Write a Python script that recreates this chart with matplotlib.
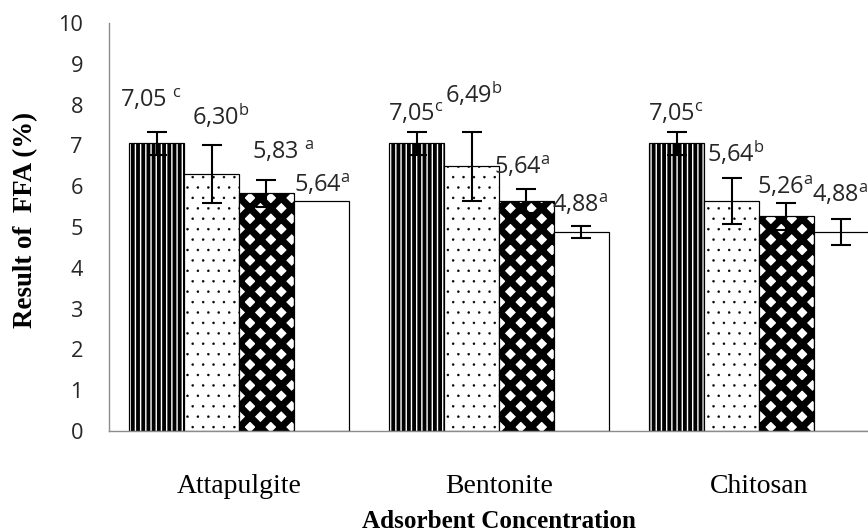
import matplotlib
matplotlib.use("Agg")
import matplotlib.pyplot as plt
import numpy as np

categories = ["Attapulgite", "Bentonite", "Chitosan"]

# FFA (%) per adsorbent, one list per concentration level
conc_1 = [7.05, 7.05, 7.05]
conc_2 = [6.30, 6.49, 5.64]
conc_3 = [5.83, 5.64, 5.26]
conc_4 = [5.64, 4.88, 4.88]

err_1 = [0.28, 0.29, 0.28]
err_2 = [0.71, 0.85, 0.57]
err_3 = [0.33, 0.30, 0.34]
err_4 = [0.00, 0.15, 0.31]

letters_1 = ["c", "c", "c"]
letters_2 = ["b", "b", "b"]
letters_3 = ["a", "a", "a"]
letters_4 = ["a", "a", "a"]

values = [conc_1, conc_2, conc_3, conc_4]
errors = [err_1, err_2, err_3, err_4]
letters = [letters_1, letters_2, letters_3, letters_4]

# label placement (layout only): rows = series, cols = category
lab_y = [[8.11, 7.75, 7.75],
         [7.70, 8.24, 6.81],
         [6.84, 6.45, 5.96],
         [6.03, 5.54, 5.78]]
lab_dx = [[-0.024, -0.005, -0.005],
          [0.035, 0.007, 0.018],
          [0.065, -0.015, -0.003],
          [0.005, -0.003, -0.003]]
lab_gap = [[" ", "", ""],
           ["", "", ""],
           [" ", "", ""],
           ["", "", ""]]

# style per series: hatch, hatch linewidth
styles = [("||||", 2.2),
          ("..", 0.2),
          ("xx", 4.0),
          ("", 0.8)]

DPI = 125
fig = plt.figure(figsize=(868 / DPI, 532 / DPI), dpi=DPI)
ax = fig.add_axes([109 / 868, 101 / 532, 780 / 868, 408 / 532])

x = np.arange(len(categories))
w = 0.2106

for i in range(4):
    hatch, hlw = styles[i]
    pos = x + (i - 1.5) * w
    # hatch linewidth is taken from rcParams when the bars are made
    with plt.rc_context({"hatch.linewidth": hlw}):
        ax.bar(pos, values[i], w, color="white", edgecolor="black",
               linewidth=0.7, hatch=hatch, zorder=2)
    for j in range(len(categories)):
        if errors[i][j] > 0:
            ax.errorbar(pos[j], values[i][j], yerr=errors[i][j], fmt="none",
                        ecolor="black", elinewidth=1.2, capsize=5.5,
                        capthick=1.2, zorder=3)
        txt = f"{values[i][j]:.2f}".replace(".", ",")
        ax.text(pos[j] + lab_dx[i][j], lab_y[i][j],
                txt + lab_gap[i][j] + r"$^{\mathregular{" + letters[i][j] + "}}$",
                ha="center", va="center", fontsize=13.5, family="Open Sans",
                color="#262626", zorder=4)

ax.set_xlim(-0.5, 2.5)
ax.set_ylim(0, 10)
ax.set_yticks(range(0, 11))
ax.set_xticks(x)
ax.set_xticklabels(categories, family="Liberation Serif", fontsize=16)
for lab in ax.get_yticklabels():
    lab.set_family("Open Sans")
    lab.set_fontsize(12.5)
    lab.set_color("#262626")
ax.tick_params(axis="y", length=0, pad=15)
ax.tick_params(axis="x", length=0, pad=25)

for s in ["top", "right"]:
    ax.spines[s].set_visible(False)
for s in ["left", "bottom"]:
    ax.spines[s].set_color("#8c8c8c")
    ax.spines[s].set_linewidth(0.8)

ax.set_ylabel("Result of  FFA (%)", family="Liberation Serif",
              fontweight="bold", fontsize=15.5)
ax.yaxis.set_label_coords(-0.091, 0.517)
ax.set_xlabel("Adsorbent Concentration", family="Liberation Serif",
              fontweight="bold", fontsize=14.5, labelpad=6)

fig.savefig("out.png", dpi=DPI)
